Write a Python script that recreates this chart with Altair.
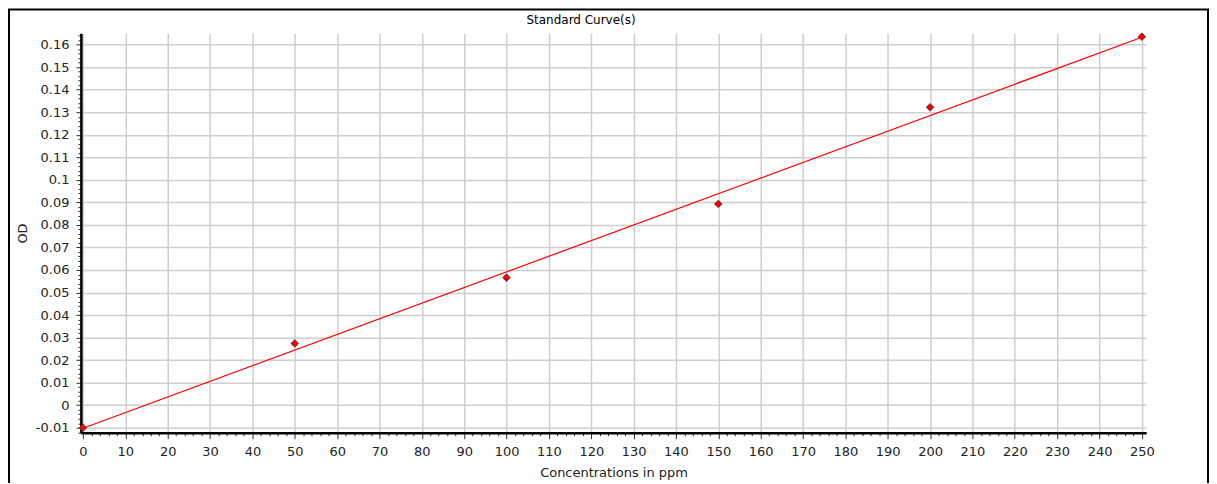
import altair as alt
import pandas as pd

# Data
conc = [0, 50, 100, 150, 200, 250]
od = [-0.0100, 0.0274, 0.0566, 0.0893, 0.1322, 0.1635]

# Tick values / labels
x_major = list(range(0, 251, 10))
x_ticks = list(range(0, 251, 2))
y_major = [-0.01, 0, 0.01, 0.02, 0.03, 0.04, 0.05, 0.06, 0.07, 0.08,
           0.09, 0.1, 0.11, 0.12, 0.13, 0.14, 0.15, 0.16]
y_ticks = [round(-0.012 + 0.002 * i, 3) for i in range(89)]

chart_title = "Standard Curve(s)"

df = pd.DataFrame({"conc": conc, "od": od})

FONT = "DejaVu Sans"
W, H = 1067, 400

x_major_test = "datum.value % 10 === 0"
y_major_test = "abs(datum.value*100 - round(datum.value*100)) < 0.001"

x_enc = alt.X(
    "conc:Q",
    scale=alt.Scale(domain=[-0.5, 251], nice=False, zero=False),
    axis=alt.Axis(
        title="Concentrations in ppm",
        values=x_ticks,
        labelExpr=f"{x_major_test} ? '' + datum.value : ''",
        labelOverlap=False,
        labelFlush=False,
        labelPadding=7,
        labelFontSize=13,
        tickSize={"condition": {"test": x_major_test, "value": 6}, "value": 3},
        gridOpacity={"condition": {"test": x_major_test, "value": 1}, "value": 0},
        titleY=40,
        titleBaseline="middle",
        titleFontSize=13,
    ),
)
y_enc = alt.Y(
    "od:Q",
    scale=alt.Scale(domain=[-0.0122, 0.165], nice=False, zero=False),
    axis=alt.Axis(
        title="OD",
        values=y_ticks,
        labelExpr=f"{y_major_test} ? '' + datum.value : ''",
        labelOverlap=False,
        labelFlush=False,
        labelPadding=7,
        labelFontSize=13,
        tickSize={"condition": {"test": y_major_test, "value": 5}, "value": 3},
        gridOpacity={"condition": {"test": y_major_test, "value": 1}, "value": 0},
        titleX=-58,
        titleBaseline="middle",
        titleFontSize=13,
    ),
)

base = alt.Chart(df)

line = base.transform_regression("conc", "od", extent=[0, 250]).mark_line(
    color="#ff0000", strokeWidth=1.2
).encode(x=x_enc, y=y_enc)

points = base.mark_point(
    shape="diamond", filled=True, fill="#ee0000", stroke="#444444",
    strokeWidth=0.8, size=60, opacity=1
).encode(x=x_enc, y=y_enc)

frame = alt.Chart(pd.DataFrame({"a": [0]})).mark_rect(
    filled=False, stroke="black", strokeWidth=2, fill=None
).encode(x=alt.value(-72), x2=alt.value(1129), y=alt.value(-24), y2=alt.value(480))

title_text = alt.Chart(pd.DataFrame({"t": [chart_title]})).mark_text(
    font=FONT, fontSize=12, color="black", align="center", baseline="middle"
).encode(text="t:N", x=alt.value(501), y=alt.value(-13))

chart = alt.layer(line, points, frame, title_text).properties(
    width=W,
    height=H,
    autosize=alt.AutoSizeParams(type="none"),
    padding={"left": 73, "top": 25, "right": 63, "bottom": 50},
).configure(
    font=FONT,
    background="white",
).configure_view(
    stroke=None,
).configure_axis(
    labelFont=FONT,
    titleFont=FONT,
    labelColor="#222222",
    titleColor="#222222",
    titleFontWeight="normal",
    domainColor="black",
    domainWidth=2.5,
    tickColor="#333333",
    tickWidth=1,
    gridColor="#cfcfcf",
    gridWidth=1.5,
)

chart.save("out.html", embed_options={"renderer": "svg", "actions": False})
